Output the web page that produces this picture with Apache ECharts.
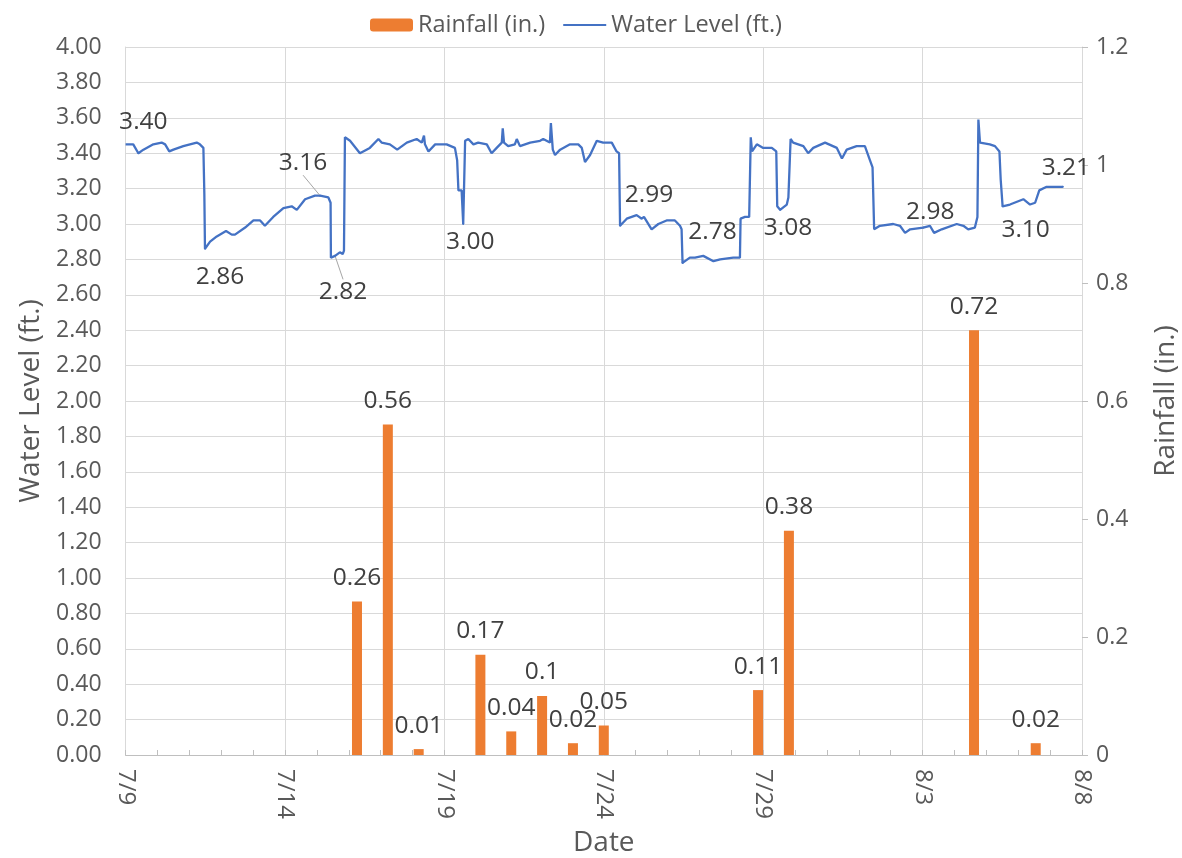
<!DOCTYPE html>
<html>
<head>
<meta charset="utf-8">
<script src="https://cdn.jsdelivr.net/npm/echarts@6/dist/echarts.min.js"></script>
<style>
  html, body { margin: 0; padding: 0; background: #ffffff; }
  #chart { width: 1182px; height: 858px; }
</style>
</head>
<body>
<div id="chart"></div>
<script>
// Date tick labels on the main (time) axis, one every 5 days
const xTickLabels = ['7/9', '7/14', '7/19', '7/24', '7/29', '8/3', '8/8'];

// Daily categories used by the rainfall bars
const dayCategories = [
  '7/9', '7/10', '7/11', '7/12', '7/13', '7/14', '7/15', '7/16', '7/17', '7/18',
  '7/19', '7/20', '7/21', '7/22', '7/23', '7/24', '7/25', '7/26', '7/27', '7/28',
  '7/29', '7/30', '7/31', '8/1', '8/2', '8/3', '8/4', '8/5', '8/6', '8/7', '8/8'
];

// Daily rainfall totals (in.)
const rainDates = ['7/16', '7/17', '7/18', '7/20', '7/21', '7/22', '7/23', '7/24', '7/29', '7/30', '8/5', '8/7'];
const rainInches = [0.26, 0.56, 0.01, 0.17, 0.04, 0.1, 0.02, 0.05, 0.11, 0.38, 0.72, 0.02];

// Water level record: [days since 7/9, level in ft]
const levelPoints = [
  [0.00, 3.45], [0.24, 3.45], [0.40, 3.40], [0.56, 3.42], [0.87, 3.45], [1.13, 3.46],
  [1.24, 3.45], [1.37, 3.41], [1.50, 3.42], [1.81, 3.44], [2.02, 3.45], [2.23, 3.46],
  [2.33, 3.45], [2.44, 3.43], [2.47, 3.17], [2.49, 2.86], [2.65, 2.90], [2.86, 2.93],
  [3.15, 2.96], [3.33, 2.94], [3.43, 2.94], [3.75, 2.98], [4.01, 3.02], [4.22, 3.02],
  [4.37, 2.99], [4.63, 3.04], [4.95, 3.09], [5.21, 3.10], [5.37, 3.08], [5.63, 3.14],
  [5.94, 3.16], [6.10, 3.16], [6.36, 3.15], [6.43, 3.12], [6.44, 2.81], [6.57, 2.82],
  [6.72, 2.84], [6.81, 2.83], [6.85, 2.85], [6.88, 3.49], [7.04, 3.47], [7.35, 3.40],
  [7.66, 3.43], [7.93, 3.48], [8.03, 3.46], [8.29, 3.45], [8.52, 3.42], [8.82, 3.46],
  [9.13, 3.48], [9.29, 3.46], [9.36, 3.50], [9.39, 3.45], [9.50, 3.41], [9.71, 3.45],
  [10.07, 3.45], [10.33, 3.43], [10.40, 3.36], [10.44, 3.19], [10.54, 3.19], [10.59, 3.00],
  [10.65, 3.47], [10.75, 3.48], [10.91, 3.45], [11.06, 3.46], [11.33, 3.45], [11.48, 3.40],
  [11.64, 3.43], [11.80, 3.46], [11.83, 3.54], [11.87, 3.46], [12.00, 3.44], [12.21, 3.45],
  [12.27, 3.48], [12.37, 3.44], [12.69, 3.46], [13.00, 3.47], [13.10, 3.48], [13.31, 3.46],
  [13.34, 3.57], [13.40, 3.42], [13.47, 3.39], [13.63, 3.42], [13.94, 3.45], [14.20, 3.45],
  [14.31, 3.43], [14.41, 3.35], [14.57, 3.39], [14.78, 3.47], [14.98, 3.46], [15.25, 3.46],
  [15.40, 3.41], [15.48, 3.40], [15.51, 2.99], [15.72, 3.03], [16.03, 3.05], [16.19, 3.03],
  [16.26, 3.04], [16.50, 2.97], [16.71, 3.00], [16.97, 3.02], [17.23, 3.02], [17.39, 2.99],
  [17.44, 2.97], [17.47, 2.78], [17.70, 2.81], [17.86, 2.81], [18.12, 2.82], [18.44, 2.79],
  [18.65, 2.80], [19.06, 2.81], [19.27, 2.81], [19.29, 3.03], [19.43, 3.04], [19.56, 3.04],
  [19.61, 3.49], [19.65, 3.41], [19.80, 3.45], [20.00, 3.43], [20.27, 3.43], [20.41, 3.41],
  [20.44, 3.10], [20.53, 3.08], [20.74, 3.11], [20.79, 3.15], [20.86, 3.48], [20.94, 3.46],
  [21.26, 3.44], [21.41, 3.40], [21.57, 3.43], [21.94, 3.46], [22.31, 3.43], [22.47, 3.37],
  [22.62, 3.42], [22.93, 3.44], [23.19, 3.44], [23.35, 3.36], [23.43, 3.32], [23.48, 2.97],
  [23.66, 2.99], [24.08, 3.00], [24.29, 2.99], [24.45, 2.95], [24.61, 2.97], [25.02, 2.98],
  [25.23, 2.99], [25.36, 2.95], [25.60, 2.97], [26.07, 3.00], [26.28, 2.99], [26.43, 2.97],
  [26.64, 2.98], [26.72, 3.04], [26.75, 3.59], [26.80, 3.46], [27.11, 3.45], [27.27, 3.44],
  [27.41, 3.41], [27.45, 3.25], [27.47, 3.25], [27.51, 3.10], [27.74, 3.11], [28.16, 3.14],
  [28.37, 3.11], [28.53, 3.12], [28.66, 3.19], [28.89, 3.21], [29.25, 3.21], [29.40, 3.21]
];

// Points of the record that carry a value label
const levelLabelIdx = [2, 15, 31, 35, 59, 92, 103, 121, 143, 159, 167];

// Label placement (pixels from the point) and whether a leader line is drawn
const labelNudges = [
  { dx: 5, dy: -31 }, { dx: 15, dy: 28 }, { dx: -17, dy: -33, leader: true },
  { dx: 8, dy: 36, leader: true }, { dx: 7, dy: 18 }, { dx: 29, dy: -31 },
  { dx: 30, dy: -31 }, { dx: 8, dy: 18 }, { dx: 7, dy: -16 },
  { dx: 23, dy: 24 }, { dx: 3, dy: -19 }
];

const FONT = '"Open Sans", "Noto Sans", sans-serif';
const GRID_COLOR = '#d9d9d9';
const TICK_COLOR = '#595959';
const LABEL_COLOR = '#404040';
const LINE_COLOR = '#4472C4';

const chart = echarts.init(document.getElementById('chart'), null, { renderer: 'canvas' });

const option = {
  animation: false,
  backgroundColor: '#ffffff',
  textStyle: { fontFamily: FONT },
  legend: {
    data: [
      { name: 'Rainfall (in.)' },
      { name: 'Water Level (ft.)', itemStyle: { opacity: 0 } }
    ],
    left: 365,
    top: 8,
    itemWidth: 43,
    itemHeight: 13,
    itemGap: 17,
    textStyle: { fontSize: 23.5, color: TICK_COLOR, fontFamily: FONT }
  },
  grid: {
    left: 125.6, right: 100, top: 47, bottom: 103,
    containLabel: false,
    outerBoundsMode: 'none'
  },
  xAxis: [
    {
      type: 'value',
      min: 0,
      max: 30,
      interval: 5,
      name: 'Date',
      nameLocation: 'middle',
      nameGap: 74,
      nameTextStyle: { fontSize: 28, color: TICK_COLOR, fontFamily: FONT },
      axisLine: { show: true, lineStyle: { color: '#bfbfbf', width: 1 } },
      axisTick: { show: true, inside: true, length: 5, lineStyle: { color: '#bfbfbf' } },
      minorTick: { show: true, splitNumber: 5, length: 5, lineStyle: { color: '#bfbfbf' } },
      splitLine: { show: true, lineStyle: { color: GRID_COLOR, width: 1 } },
      axisLabel: {
        rotate: -90,
        margin: 14,
        fontSize: 24,
        color: TICK_COLOR,
        fontFamily: FONT,
        formatter: v => xTickLabels[Math.round(v / 5)]
      }
    },
    {
      type: 'category',
      data: dayCategories,
      show: false,
      boundaryGap: true
    }
  ],
  yAxis: [
    {
      type: 'value',
      min: 0,
      max: 4,
      interval: 0.2,
      name: 'Water Level (ft.)',
      nameLocation: 'middle',
      nameGap: 79,
      nameTextStyle: { fontSize: 28, color: TICK_COLOR, fontFamily: FONT },
      axisLine: { show: true, lineStyle: { color: GRID_COLOR } },
      axisTick: { show: false },
      splitLine: { show: true, lineStyle: { color: GRID_COLOR, width: 1 } },
      axisLabel: {
        margin: 24,
        fontSize: 23,
        color: TICK_COLOR,
        fontFamily: FONT,
        formatter: v => v.toFixed(2)
      }
    },
    {
      type: 'value',
      position: 'right',
      min: 0,
      max: 1.2,
      interval: 0.2,
      name: 'Rainfall (in.)',
      nameLocation: 'middle',
      nameGap: 70,
      nameTextStyle: { fontSize: 28, color: TICK_COLOR, fontFamily: FONT },
      axisLine: { show: true, lineStyle: { color: GRID_COLOR } },
      axisTick: { show: true, length: 6, lineStyle: { color: '#bfbfbf' } },
      splitLine: { show: false },
      axisLabel: {
        margin: 14,
        fontSize: 23,
        color: TICK_COLOR,
        fontFamily: FONT,
        formatter: v => String(Math.round(v * 10) / 10)
      }
    }
  ],
  series: [
    {
      name: 'Rainfall (in.)',
      type: 'bar',
      xAxisIndex: 1,
      yAxisIndex: 1,
      barWidth: 10,
      itemStyle: { color: '#ED7D31' },
      data: rainDates.map((d, i) => [d, rainInches[i]]),
      label: {
        show: true,
        position: 'top',
        distance: 11,
        fontSize: 24.5,
        color: LABEL_COLOR,
        fontFamily: FONT,
        formatter: p => String(p.value[1])
      },
      z: 2
    },
    {
      name: 'Water Level (ft.)',
      type: 'line',
      xAxisIndex: 0,
      yAxisIndex: 0,
      symbol: 'none',
      showSymbol: false,
      lineStyle: { color: LINE_COLOR, width: 2.3 },
      itemStyle: { color: LINE_COLOR },
      data: levelPoints,
      z: 3
    },
    {
      name: 'levelLabels',
      type: 'scatter',
      xAxisIndex: 0,
      yAxisIndex: 0,
      silent: true,
      symbol: 'circle',
      symbolSize: 2,
      itemStyle: { color: LINE_COLOR, opacity: 1 },
      data: levelLabelIdx.map((idx, k) => ({
        value: levelPoints[idx],
        labelLine: { show: !!labelNudges[k].leader }
      })),
      label: {
        show: true,
        position: [1, 1],
        align: 'center',
        verticalAlign: 'middle',
        fontSize: 24.5,
        color: LABEL_COLOR,
        textBorderWidth: 0,
        fontFamily: FONT,
        formatter: p => p.value[1].toFixed(2)
      },
      labelLine: { show: false, lineStyle: { color: '#a6a6a6', width: 1 } },
      labelLayout: params => {
        const n = labelNudges[params.dataIndex];
        return { dx: n.dx, dy: n.dy };
      },
      z: 4
    }
  ]
};

chart.setOption(option);
</script>
</body>
</html>
